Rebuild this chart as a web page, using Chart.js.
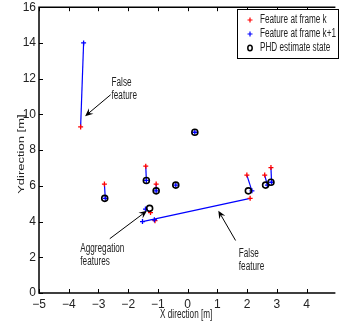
<!DOCTYPE html>
<html>
<head>
<meta charset="utf-8">
<script src="https://cdn.jsdelivr.net/npm/chart.js@4.4.1/dist/chart.umd.min.js"></script>
<style>
  html, body { margin: 0; padding: 0; background: #fff; }
  canvas { display: block; }
</style>
</head>
<body>
<canvas id="grafico" width="339" height="327"></canvas>
<script>
// Features at frame k (red) and matched features at frame k+1 (blue)
const featKx  = [-3.6, -2.8, -1.41, -1.06, -1.25, -1.1, 2.1, 1.99, 2.59, 2.8];
const featKy  = [9.3, 6.1, 7.1, 6.1, 4.5, 4.05, 5.3, 6.6, 6.6, 7.02];
const featK1x = [-3.5, -2.77, -1.39, -1.06, -1.42, -1.12, -1.52, 2.16, 2.68, 2.82, -0.40, 0.24];
const featK1y = [14.0, 5.3, 6.3, 5.72, 4.7, 4.1, 4.0, 5.72, 6.04, 6.2, 6.04, 9.0];
// PHD estimate states
const phdX = [-2.79, -1.39, -1.06, -1.28, -0.40, 0.24, 2.04, 2.62, 2.80];
const phdY = [5.3, 6.3, 5.72, 4.74, 6.04, 9.0, 5.72, 6.04, 6.2];

const xTicks = [-5, -4, -3, -2, -1, 0, 1, 2, 3, 4];
const yTicks = [0, 2, 4, 6, 8, 10, 12, 14, 16];

const legendLabels = ['Feature at frame k', 'Feature at frame k+1', 'PHD estimate state'];
const xTitulo = 'X direction [m]';
const yTitulo = 'Ydirection [m]';

// anotacoes: texto + seta (coordenadas em metros)
const notas = [
    {texto: ['False', 'feature'], x: -2.56, y: 11.78, de: [-2.59, 11.1], para: [-3.45, 9.9]},
    {texto: ['Aggregation', 'features'], x: -3.61, y: 2.48, de: [-2.62, 3.04], para: [-1.37, 4.6]},
    {texto: ['False', 'feature'], x: 1.72, y: 2.2, de: [1.61, 2.94], para: [1.03, 4.61]}
];

const FONTE = '"Liberation Sans", Arial, sans-serif';
const ESTREITO = 0.68; // texto do matlab parece comprimido na horizontal

function pontos(xs, ys) {
    return xs.map((x, i) => ({x: x, y: ys[i]}));
}

// segmentos azuis ligando frame k -> frame k+1
const segmentos = featKx.map((x, i) => ({
    type: 'scatter',
    data: [{x: x, y: featKy[i]}, {x: featK1x[i], y: featK1y[i]}],
    showLine: true,
    borderColor: '#0000ff',
    borderWidth: 1.2,
    pointRadius: 0,
    order: 4
}));

function textoEstreito(ctx, txt, x, y) {
    ctx.save();
    ctx.translate(x, y);
    ctx.scale(ESTREITO, 1);
    ctx.fillText(txt, 0, 0);
    ctx.restore();
}

function seta(ctx, x1, y1, x2, y2) {
    const ang = Math.atan2(y2 - y1, x2 - x1);
    const L = 8, W = 3.5;
    ctx.beginPath();
    ctx.moveTo(x1, y1);
    ctx.lineTo(x2 - Math.cos(ang) * 4, y2 - Math.sin(ang) * 4);
    ctx.stroke();
    ctx.beginPath();
    ctx.moveTo(x2, y2);
    ctx.lineTo(x2 - L * Math.cos(ang) + W * Math.sin(ang), y2 - L * Math.sin(ang) - W * Math.cos(ang));
    ctx.lineTo(x2 - 5 * Math.cos(ang), y2 - 5 * Math.sin(ang));
    ctx.lineTo(x2 - L * Math.cos(ang) - W * Math.sin(ang), y2 - L * Math.sin(ang) + W * Math.cos(ang));
    ctx.closePath();
    ctx.fill();
}

const extras = {
    id: 'extras',
    afterDraw(chart) {
        const {ctx, chartArea: a, scales: {x, y}} = chart;
        ctx.save();
        ctx.strokeStyle = '#000';
        ctx.fillStyle = '#000';

        // eixos (box sem o lado direito, fora da imagem)
        ctx.lineWidth = 1.5;
        ctx.beginPath();
        ctx.moveTo(a.right + 2, a.top);
        ctx.lineTo(a.left, a.top);
        ctx.lineTo(a.left, a.bottom);
        ctx.lineTo(a.right + 2, a.bottom);
        ctx.stroke();

        // ticks para dentro
        ctx.lineWidth = 1;
        ctx.beginPath();
        xTicks.forEach(v => {
            const px = Math.round(x.getPixelForValue(v)) + 0.5;
            ctx.moveTo(px, a.bottom); ctx.lineTo(px, a.bottom - 4);
            ctx.moveTo(px, a.top); ctx.lineTo(px, a.top + 4);
        });
        yTicks.forEach(v => {
            const py = Math.round(y.getPixelForValue(v)) + 0.5;
            ctx.moveTo(a.left, py); ctx.lineTo(a.left + 4, py);
        });
        ctx.stroke();

        ctx.font = '12px ' + FONTE;
        ctx.textBaseline = 'middle';
        ctx.fillStyle = '#222';

        // titulos dos eixos
        ctx.textAlign = 'center';
        textoEstreito(ctx, xTitulo, (a.left + a.right) / 2, 315);
        ctx.save();
        ctx.translate(21, (a.top + a.bottom) / 2 + 4);
        ctx.rotate(-Math.PI / 2);
        ctx.scale(1.0, 0.75);
        ctx.font = '13px ' + FONTE;
        ctx.fillText(yTitulo, 0, 0);
        ctx.restore();

        // anotacoes
        ctx.textAlign = 'left';
        notas.forEach(n => {
            const tx = x.getPixelForValue(n.x);
            const ty = y.getPixelForValue(n.y);
            n.texto.forEach((linha, k) => textoEstreito(ctx, linha, tx, ty + k * 13));
            ctx.fillStyle = '#000';
            ctx.lineWidth = 1;
            seta(ctx, x.getPixelForValue(n.de[0]), y.getPixelForValue(n.de[1]),
                 x.getPixelForValue(n.para[0]), y.getPixelForValue(n.para[1]));
            ctx.fillStyle = '#222';
        });

        // legenda
        const bx = 237, by = 9, bw = 101, bh = 49;
        ctx.fillStyle = '#fff';
        ctx.fillRect(bx, by, bw, bh);
        ctx.strokeStyle = '#000';
        ctx.lineWidth = 1;
        ctx.strokeRect(bx + 0.5, by + 0.5, bw, bh);
        const linhas = [by + 11, by + 25, by + 39];
        const mx = 250;
        ctx.lineWidth = 1.2;
        ctx.strokeStyle = '#ff0000';
        ctx.beginPath();
        ctx.moveTo(mx - 2.5, linhas[0]); ctx.lineTo(mx + 2.5, linhas[0]);
        ctx.moveTo(mx, linhas[0] - 2.5); ctx.lineTo(mx, linhas[0] + 2.5);
        ctx.stroke();
        ctx.strokeStyle = '#0000ff';
        ctx.beginPath();
        ctx.moveTo(mx - 2.5, linhas[1]); ctx.lineTo(mx + 2.5, linhas[1]);
        ctx.moveTo(mx, linhas[1] - 2.5); ctx.lineTo(mx, linhas[1] + 2.5);
        ctx.stroke();
        ctx.strokeStyle = '#000';
        ctx.lineWidth = 1.5;
        ctx.beginPath();
        ctx.ellipse(mx, linhas[2], 2.2, 2.8, 0, 0, Math.PI * 2);
        ctx.stroke();
        ctx.fillStyle = '#222';
        legendLabels.forEach((t, i) => textoEstreito(ctx, t, 260, linhas[i]));

        ctx.restore();
    }
};

function montarGrafico() {
    const graf = document.getElementById('grafico').getContext('2d');

    const meuGrafico = new Chart(graf, {
        type: 'scatter',
        data: {
            datasets: [
                {
                    label: legendLabels[2],
                    data: pontos(phdX, phdY),
                    pointStyle: 'circle',
                    pointRadius: 3,
                    borderColor: '#000',
                    backgroundColor: 'rgba(0,0,0,0)',
                    pointBorderWidth: 1.6,
                    order: 1
                },
                {
                    label: legendLabels[1],
                    data: pontos(featK1x, featK1y),
                    pointStyle: 'cross',
                    pointRadius: 2.5,
                    borderColor: '#0000ff',
                    pointBorderWidth: 1.3,
                    order: 2
                },
                {
                    label: legendLabels[0],
                    data: pontos(featKx, featKy),
                    pointStyle: 'cross',
                    pointRadius: 2.5,
                    borderColor: '#ff0000',
                    pointBorderWidth: 1.3,
                    order: 3
                },
                ...segmentos
            ]
        },
        options: {
            responsive: false,
            animation: false,
            devicePixelRatio: 1,
            layout: {padding: 0},
            plugins: {
                legend: {display: false},
                tooltip: {enabled: false}
            },
            scales: {
                x: {
                    type: 'linear',
                    min: -5,
                    max: 4.9,
                    afterBuildTicks: s => { s.ticks = xTicks.map(v => ({value: v})); },
                    afterFit: s => { s.height = 34; },
                    grid: {display: false, drawTicks: false},
                    border: {display: false},
                    ticks: {
                        color: '#222',
                        padding: 4,
                        maxRotation: 0,
                        font: {family: FONTE, size: 12},
                        callback: v => (v < 0 ? '\u2212' + Math.abs(v) : '' + v)
                    },
                    title: {display: false}
                },
                y: {
                    type: 'linear',
                    min: 0,
                    max: 16,
                    afterBuildTicks: s => { s.ticks = yTicks.map(v => ({value: v})); },
                    afterFit: s => { s.width = 39; },
                    grid: {display: false, drawTicks: false},
                    border: {display: false},
                    ticks: {
                        color: '#222',
                        padding: 3,
                        font: {family: FONTE, size: 12, lineHeight: 0.7}
                    },
                    title: {display: false}
                }
            }
        },
        plugins: [extras]
    });
}

montarGrafico();
</script>
</body>
</html>
